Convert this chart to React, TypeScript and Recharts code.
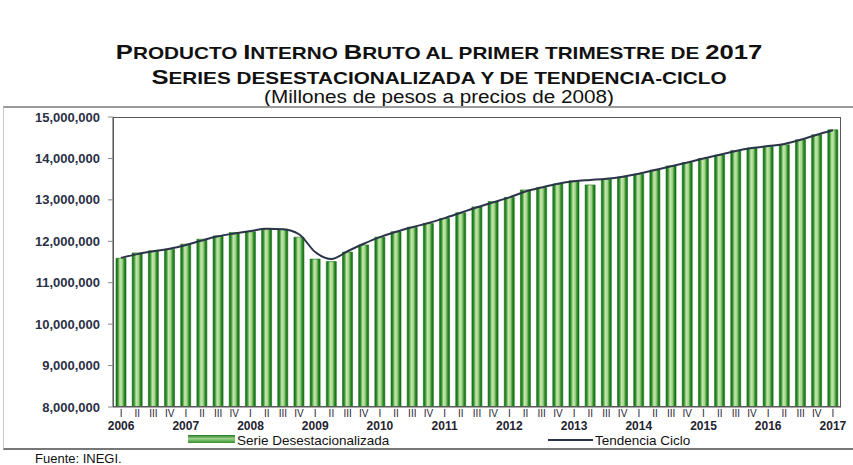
import React from "react"
import { ComposedChart, Bar, Line, XAxis, YAxis } from "recharts"

const years = ["2006", "2007", "2008", "2009", "2010", "2011", "2012", "2013", "2014", "2015", "2016", "2017"]
const quarters = ["I", "II", "III", "IV"]

// millones de pesos a precios de 2008, serie desestacionalizada
const serie = [
  11590000, 11720000, 11770000, 11810000,
  11930000, 12050000, 12130000, 12210000,
  12230000, 12310000, 12290000, 12100000,
  11570000, 11510000, 11740000, 11910000,
  12100000, 12230000, 12340000, 12430000,
  12550000, 12690000, 12830000, 12960000,
  13060000, 13240000, 13300000, 13380000,
  13460000, 13360000, 13500000, 13550000,
  13620000, 13720000, 13820000, 13900000,
  14000000, 14080000, 14190000, 14250000,
  14290000, 14330000, 14450000, 14570000,
  14690000,
]

const tendencia = [
  11600000, 11690000, 11760000, 11820000,
  11910000, 12020000, 12120000, 12190000,
  12250000, 12300000, 12290000, 12170000,
  11740000, 11570000, 11760000, 11940000,
  12100000, 12230000, 12340000, 12440000,
  12560000, 12690000, 12820000, 12940000,
  13060000, 13200000, 13300000, 13390000,
  13450000, 13480000, 13510000, 13560000,
  13630000, 13720000, 13810000, 13900000,
  14000000, 14090000, 14180000, 14250000,
  14300000, 14350000, 14450000, 14570000,
  14680000,
]

const yTicks = [8000000, 9000000, 10000000, 11000000, 12000000, 13000000, 14000000, 15000000]

const data = serie.map((v, i) => ({
  key: years[Math.floor(i / 4)] + "-" + quarters[i % 4],
  serie: v,
  tendencia: tendencia[i],
}))

const font = "'Liberation Sans', Arial, sans-serif"

function QuarterTick(props: any) {
  const { x, y, payload } = props
  const [yr, q] = String(payload.value).split("-")
  return (
    <g>
      <text x={x} y={y + 2} textAnchor="middle" fontSize={10} fill="#1f2430" fontFamily={font}>{q}</text>
      {q === "I" && (
        <text x={x} y={y + 15} textAnchor="middle" fontSize={12} fontWeight="bold" fill="#1f2430" fontFamily={font}>{yr}</text>
      )}
    </g>
  )
}

// versalitas: mayúsculas y cifras grandes, minúsculas como mayúsculas pequeñas
function Caps({ text }: { text: string }) {
  const parts: { big: boolean; s: string }[] = []
  for (const ch of text) {
    const big = /[A-Z0-9]/.test(ch)
    const last = parts[parts.length - 1]
    if (last && last.big === big) last.s += ch
    else parts.push({ big, s: ch })
  }
  return (
    <>
      {parts.map((p, i) => (
        <span key={i} style={{ fontSize: p.big ? 21 : 17, textTransform: "uppercase" }}>{p.s}</span>
      ))}
    </>
  )
}

export default function App() {
  return (
    <div style={{ position: "absolute", left: 0, top: 0, width: 853, height: 465, background: "#fff", fontFamily: font, overflow: "hidden" }}>
      <div style={{ position: "absolute", left: 0, width: 853, top: 40, textAlign: "center", paddingLeft: 25, boxSizing: "border-box", fontWeight: "bold", lineHeight: "23px", color: "#111", transform: "scaleX(1.22)", transformOrigin: "439px 0" }}>
        <div><Caps text="Producto Interno Bruto al primer trimestre de 2017" /></div>
        <div><Caps text="Series desestacionalizada y de tendencia-ciclo" /></div>
      </div>
      <div style={{ position: "absolute", left: 0, width: 853, top: 87, textAlign: "center", paddingLeft: 25, boxSizing: "border-box", fontSize: 18, lineHeight: "20px", color: "#111", transform: "scaleX(1.15)", transformOrigin: "439px 0" }}>
        (Millones de pesos a precios de 2008)
      </div>
      <div style={{ position: "absolute", left: 3, top: 106, width: 860, height: 340, borderTop: "2px solid #9a9a9a", borderLeft: "1px solid #c8c8c8", borderBottom: "2px solid #777" }} />

      <div style={{ position: "absolute", left: 0, top: 0 }}>
        <ComposedChart width={853} height={465} data={data} margin={{ top: 117, right: 12, bottom: 28, left: 0 }} barCategoryGap={3}>
          <defs>
            <linearGradient id="barGreen" x1="0" y1="0" x2="1" y2="0">
              <stop offset="0%" stopColor="#0f6e12" />
              <stop offset="18%" stopColor="#2f8f2a" />
              <stop offset="40%" stopColor="#c6e6b0" />
              <stop offset="62%" stopColor="#a5d48c" />
              <stop offset="82%" stopColor="#2e8c28" />
              <stop offset="100%" stopColor="#0f6e12" />
            </linearGradient>
          </defs>
          <XAxis
            dataKey="key"
            interval={0}
            height={30}
            axisLine={{ stroke: "#555" }}
            tickLine={false}
            tick={<QuarterTick />}
          />
          <YAxis
            width={113}
            domain={[8000000, 15000000]}
            ticks={yTicks}
            allowDataOverflow
            tickSize={5}
            tickMargin={8}
            axisLine={{ stroke: "#444" }}
            tickLine={{ stroke: "#888" }}
            tick={{ fontSize: 13, fontWeight: "bold", fill: "#2a3046", fontFamily: font }}
            tickFormatter={(v: number) => v.toLocaleString("en-US")}
          />
          <Bar dataKey="serie" fill="url(#barGreen)" stroke="#1a6e1a" strokeWidth={0.6} isAnimationActive={false} />
          <Line dataKey="tendencia" type="monotone" stroke="#2b3448" strokeWidth={2} dot={false} isAnimationActive={false} />
        </ComposedChart>
      </div>

      <div style={{ position: "absolute", left: 113, top: 117, width: 728, height: 290, border: "1px solid #5a5a5a", boxSizing: "border-box", pointerEvents: "none" }} />

      <div style={{ position: "absolute", left: 188, top: 435, width: 47, height: 8, background: "linear-gradient(to bottom, #1d7a1d, #9fd08a 45%, #2f8f2a 100%)" }} />
      <div style={{ position: "absolute", left: 237, top: 434, fontSize: 13.5, lineHeight: "13px", color: "#111" }}>Serie Desestacionalizada</div>
      <div style={{ position: "absolute", left: 548, top: 439, width: 45, height: 2, background: "#2b3448" }} />
      <div style={{ position: "absolute", left: 595, top: 434, fontSize: 13.5, lineHeight: "13px", color: "#111" }}>Tendencia Ciclo</div>

      <div style={{ position: "absolute", left: 35, top: 452, fontSize: 13, lineHeight: "13px", color: "#111" }}>Fuente: INEGI.</div>
    </div>
  )
}
